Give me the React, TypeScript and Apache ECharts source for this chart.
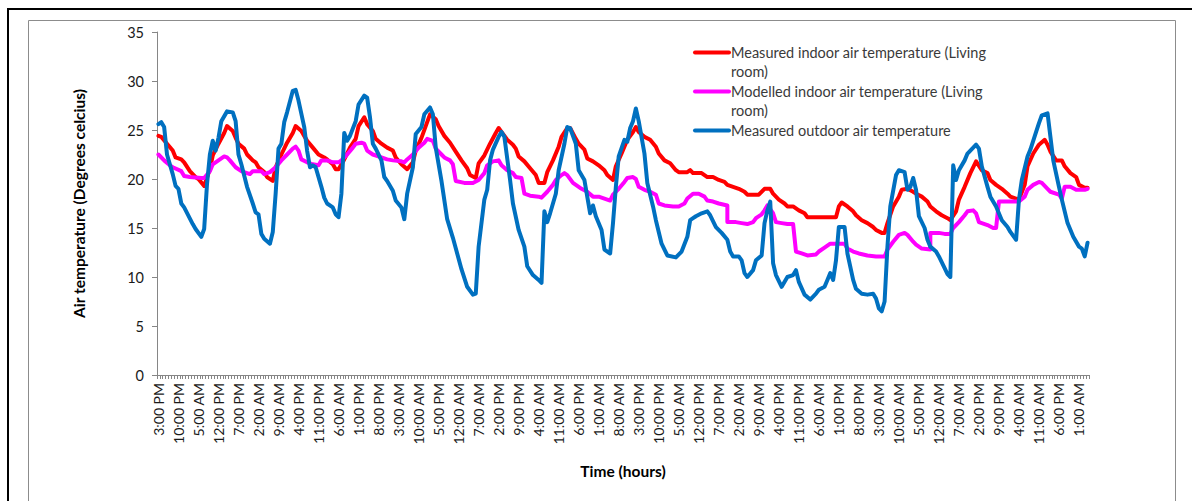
import React, { useEffect, useRef } from "react";
import * as echarts from "echarts";

// ---------- data ----------
const START_HOUR = 15; // first reading: 3:00 PM
const HOUR_COUNT = 326; // hourly readings along the x axis

const TICK_LABELS = [
  "3:00 PM", "10:00 PM", "5:00 AM", "12:00 PM", "7:00 PM", "2:00 AM", "9:00 AM", "4:00 PM",
  "11:00 PM", "6:00 AM", "1:00 PM", "8:00 PM", "3:00 AM", "10:00 AM", "5:00 PM", "12:00 AM",
  "7:00 AM", "2:00 PM", "9:00 PM", "4:00 AM", "11:00 AM", "6:00 PM", "1:00 AM", "8:00 AM",
  "3:00 PM", "10:00 PM", "5:00 AM", "12:00 PM", "7:00 PM", "2:00 AM", "9:00 AM", "4:00 PM",
  "11:00 PM", "6:00 AM", "1:00 PM", "8:00 PM", "3:00 AM", "10:00 AM", "5:00 PM", "12:00 AM",
  "7:00 AM", "2:00 PM", "9:00 PM", "4:00 AM", "11:00 AM", "6:00 PM", "1:00 AM",
];

const SERIES_NAMES = [
  "Measured indoor air temperature (Living room)",
  "Modelled indoor air temperature (Living room)",
  "Measured outdoor air temperature",
];
const LEGEND_LABELS = [
  "Measured indoor air temperature (Living\nroom)",
  "Modelled indoor air temperature (Living\nroom)",
  "Measured outdoor air temperature",
];

const X_TITLE = "Time (hours)";
const Y_TITLE = "Air temperature (Degrees celcius)";
const Y_MIN = 0;
const Y_MAX = 35;
const Y_STEP = 5;

// [hour index, °C]
const MEASURED_INDOOR: [number, number][] = [
  [0, 24.4], [1, 24.3], [3, 23.6], [5, 22.9], [6, 22.2], [8, 22.0], [9, 21.7], [11, 20.8], [13, 20.2],
  [14, 20.0], [16, 19.3], [18, 21.0], [19, 22.4], [21, 23.6], [23, 24.7], [24, 25.4], [26, 24.9],
  [27, 24.2], [28, 23.6], [30, 23.1], [31, 22.5], [33, 21.9], [34, 21.7], [35, 21.2], [37, 20.7],
  [38, 20.2], [40, 19.8], [41, 21.2], [43, 22.5], [45, 23.7], [47, 24.7], [48, 25.4], [50, 24.9],
  [51, 24.4], [52, 23.9], [54, 23.2], [56, 22.5], [58, 22.2], [59, 22.0], [61, 21.5], [62, 21.0],
  [63, 21.0], [65, 22.0], [67, 23.2], [69, 24.1], [70, 25.4], [72, 26.3], [73, 25.6], [75, 24.9],
  [76, 24.1], [78, 23.6], [80, 23.2], [82, 22.9], [83, 22.2], [85, 21.5], [87, 21.0], [89, 21.7],
  [90, 22.9], [92, 24.2], [94, 25.8], [95, 26.6], [97, 26.1], [98, 25.4], [100, 24.4], [102, 23.7],
  [104, 22.8], [106, 21.9], [108, 21.1], [109, 20.4], [111, 20.1], [112, 21.6], [114, 22.4],
  [116, 23.6], [118, 24.7], [119, 25.2], [120, 24.8], [122, 24.0], [124, 23.5], [125, 23.1],
  [126, 22.3], [128, 21.8], [130, 21.1], [132, 20.4], [133, 19.6], [135, 19.6], [136, 20.7],
  [138, 21.9], [140, 23.3], [141, 24.3], [143, 25.2], [144, 25.2], [146, 24.1], [147, 23.6],
  [149, 23.0], [150, 22.1], [152, 21.8], [154, 21.4], [156, 20.9], [157, 20.4], [159, 19.9],
  [160, 21.3], [162, 22.6], [164, 24.0], [166, 24.8], [167, 25.3], [168, 24.8], [170, 24.3],
  [172, 24.0], [174, 23.3], [175, 22.6], [177, 21.9], [179, 21.6], [181, 20.9], [182, 20.7],
  [185, 20.7], [186, 20.9], [187, 20.6], [190, 20.6], [192, 20.2], [194, 20.2], [196, 19.9],
  [198, 19.7], [199, 19.4], [201, 19.2], [203, 19.0], [205, 18.7], [206, 18.4], [210, 18.4],
  [212, 19.0], [214, 19.0], [215, 18.5], [217, 17.9], [219, 17.5], [220, 17.2], [222, 17.2],
  [224, 16.8], [226, 16.5], [227, 16.1], [237, 16.1], [238, 17.2], [239, 17.6], [241, 17.2],
  [243, 16.7], [244, 16.3], [246, 15.8], [248, 15.5], [250, 15.1], [251, 14.8], [253, 14.5],
  [254, 14.5], [255, 15.5], [257, 17.2], [259, 18.2], [260, 18.9], [262, 19.0], [264, 18.7],
  [265, 18.5], [267, 18.2], [269, 17.7], [270, 17.2], [272, 16.7], [274, 16.3], [276, 16.0],
  [277, 15.8], [279, 16.7], [280, 17.9], [282, 19.2], [284, 20.6], [286, 21.8], [288, 20.9],
  [290, 20.6], [291, 19.9], [293, 19.4], [295, 19.0], [297, 18.5], [298, 18.2], [301, 17.9],
  [303, 19.4], [304, 21.3], [306, 22.6], [308, 23.5], [310, 24.0], [311, 23.5], [312, 22.8],
  [314, 21.9], [316, 21.9], [317, 21.3], [319, 20.6], [321, 20.2], [322, 19.4], [324, 19.1],
  [325, 19.1],
];

const MODELLED_INDOOR: [number, number][] = [
  [0, 22.5], [2, 21.9], [4, 21.4], [5, 21.2], [8, 20.8], [9, 20.3], [11, 20.2], [15, 20.1], [16, 20.1],
  [18, 20.8], [19, 21.5], [21, 21.9], [23, 22.3], [24, 22.2], [25, 21.9], [27, 21.2], [29, 20.8],
  [30, 20.7], [32, 20.5], [33, 20.8], [36, 20.8], [37, 20.5], [39, 20.7], [41, 21.2], [43, 21.9],
  [45, 22.5], [47, 23.1], [48, 23.3], [49, 22.9], [50, 22.0], [52, 21.7], [54, 21.5], [56, 21.4],
  [57, 21.9], [59, 21.9], [61, 21.7], [63, 21.7], [64, 21.9], [66, 22.5], [68, 23.2], [69, 23.6],
  [71, 23.7], [72, 23.6], [73, 22.9], [75, 22.5], [78, 22.2], [80, 22.0], [82, 21.9], [85, 21.8],
  [86, 21.7], [87, 22.0], [89, 22.5], [91, 23.2], [93, 23.7], [94, 24.1], [96, 23.9], [97, 23.1],
  [99, 22.5], [100, 22.2], [102, 21.9], [103, 21.5], [104, 19.8], [107, 19.6], [110, 19.6],
  [112, 19.9], [114, 20.6], [115, 21.4], [117, 21.8], [119, 21.9], [120, 21.4], [122, 20.9],
  [124, 20.6], [125, 20.2], [127, 20.1], [128, 18.5], [130, 18.3], [133, 18.2], [134, 18.1],
  [136, 18.7], [138, 19.4], [139, 19.9], [141, 20.4], [142, 20.6], [143, 20.4], [145, 19.6],
  [146, 19.4], [148, 19.0], [150, 18.7], [152, 18.2], [154, 18.2], [156, 18.0], [158, 17.8],
  [159, 18.4], [161, 19.0], [163, 19.7], [164, 20.1], [166, 20.2], [167, 20.0], [168, 19.2],
  [170, 18.9], [172, 18.7], [174, 18.4], [175, 17.5], [177, 17.3], [180, 17.2], [182, 17.2],
  [184, 17.5], [185, 18.0], [187, 18.5], [189, 18.5], [191, 18.2], [192, 17.8], [194, 17.7],
  [196, 17.5], [199, 17.3], [199, 15.6], [202, 15.6], [204, 15.5], [206, 15.4], [208, 15.6],
  [209, 16.0], [211, 16.4], [212, 16.8], [213, 17.3], [215, 16.5], [216, 15.6], [218, 15.5],
  [220, 15.4], [222, 15.4], [223, 12.6], [225, 12.4], [227, 12.2], [230, 12.3], [231, 12.6],
  [233, 13.0], [235, 13.4], [237, 13.4], [240, 13.4], [241, 12.9], [243, 12.6], [245, 12.4],
  [248, 12.2], [251, 12.1], [254, 12.1], [255, 12.8], [257, 13.6], [259, 14.3], [261, 14.5],
  [262, 14.3], [264, 13.6], [265, 13.3], [267, 12.9], [270, 12.8], [270, 14.5], [273, 14.5],
  [275, 14.4], [277, 14.4], [278, 15.0], [280, 15.6], [282, 16.3], [283, 16.7], [285, 16.8],
  [286, 16.5], [287, 15.6], [290, 15.3], [292, 15.0], [293, 15.0], [294, 17.7], [297, 17.7],
  [301, 17.7], [303, 18.2], [304, 18.9], [306, 19.4], [308, 19.7], [309, 19.6], [311, 19.0],
  [312, 18.7], [315, 18.4], [316, 18.0], [317, 19.2], [319, 19.2], [321, 18.9], [324, 18.9],
  [325, 19.0],
];

const MEASURED_OUTDOOR: [number, number][] = [
  [0, 25.6], [1, 25.8], [2, 25.3], [3, 22.5], [5, 20.5], [6, 19.3], [7, 19.0], [8, 17.5], [9, 17.1],
  [12, 15.4], [13, 14.9], [15, 14.1], [16, 14.9], [17, 19.5], [18, 22.5], [19, 23.9], [20, 22.9],
  [21, 24.2], [22, 25.9], [24, 26.9], [26, 26.8], [27, 25.9], [28, 22.5], [29, 21.5], [31, 19.2],
  [33, 17.5], [34, 16.6], [35, 16.4], [36, 14.4], [37, 13.9], [39, 13.4], [40, 14.6], [41, 18.5],
  [42, 23.1], [43, 23.6], [44, 25.8], [45, 26.8], [47, 29.0], [48, 29.1], [49, 28.0], [51, 25.3],
  [52, 22.9], [53, 21.2], [54, 21.4], [55, 21.2], [57, 19.2], [58, 18.1], [59, 17.5], [61, 17.1],
  [62, 16.4], [63, 16.1], [64, 18.5], [65, 24.7], [66, 23.9], [67, 24.4], [69, 25.9], [70, 27.6],
  [72, 28.5], [73, 28.3], [74, 26.3], [75, 23.6], [76, 23.1], [78, 21.9], [79, 20.2], [80, 19.8],
  [82, 18.8], [83, 17.8], [85, 17.1], [86, 15.9], [87, 18.5], [89, 21.2], [90, 24.6], [92, 25.3],
  [93, 26.6], [95, 27.3], [96, 26.6], [97, 23.2], [99, 19.8], [101, 15.9], [103, 14.0], [106, 10.8],
  [108, 9.0], [110, 8.2], [111, 8.3], [112, 13.1], [114, 17.9], [115, 18.9], [116, 21.9],
  [117, 23.0], [119, 24.3], [120, 24.8], [121, 24.3], [123, 19.9], [124, 17.5], [126, 14.8],
  [128, 13.1], [129, 11.1], [131, 10.2], [133, 9.7], [134, 9.4], [135, 16.7], [136, 15.6],
  [137, 16.5], [139, 18.5], [140, 20.9], [142, 23.6], [143, 25.3], [144, 25.2], [146, 23.6],
  [147, 20.9], [149, 19.9], [150, 18.2], [151, 16.5], [152, 17.3], [153, 16.2], [155, 14.8],
  [156, 12.8], [158, 12.4], [159, 15.5], [160, 19.2], [161, 22.3], [163, 24.0], [164, 23.8],
  [165, 25.2], [166, 25.9], [167, 27.2], [168, 25.9], [170, 22.6], [171, 19.6], [173, 17.2],
  [174, 15.8], [176, 13.4], [178, 12.2], [181, 12.0], [183, 12.6], [185, 14.1], [186, 15.8],
  [187, 16.0], [188, 16.2], [190, 16.5], [192, 16.7], [193, 16.3], [195, 15.1], [197, 14.5],
  [199, 13.8], [200, 12.6], [201, 12.1], [203, 12.1], [204, 11.7], [205, 10.4], [206, 10.0],
  [208, 10.7], [209, 11.7], [211, 12.2], [212, 15.5], [213, 16.8], [214, 17.7], [215, 11.4],
  [216, 10.2], [218, 9.0], [220, 10.0], [222, 10.2], [223, 10.7], [224, 9.5], [226, 8.2],
  [228, 7.7], [230, 8.3], [231, 8.7], [233, 9.0], [234, 9.7], [235, 10.4], [236, 9.7],
  [237, 11.7], [238, 15.1], [240, 15.1], [241, 12.4], [243, 9.7], [244, 8.8], [246, 8.3],
  [248, 8.2], [250, 8.3], [251, 7.8], [252, 6.8], [253, 6.5], [254, 7.5], [255, 13.1],
  [256, 17.2], [258, 20.4], [259, 20.9], [261, 20.7], [262, 18.9], [263, 19.2], [264, 20.1],
  [265, 18.9], [266, 16.2], [268, 15.0], [269, 13.8], [270, 13.1], [272, 12.6], [273, 12.1],
  [275, 10.9], [276, 10.3], [277, 10.0], [278, 21.4], [279, 19.9], [280, 20.9], [282, 21.9],
  [283, 22.6], [286, 23.5], [287, 23.1], [288, 21.3], [290, 19.2], [291, 18.2], [293, 17.2],
  [295, 15.8], [297, 15.1], [298, 14.6], [300, 13.8], [301, 17.9], [302, 19.9], [304, 22.3],
  [305, 23.0], [307, 24.8], [308, 25.7], [309, 26.5], [311, 26.7], [312, 24.3], [313, 21.9],
  [315, 19.2], [316, 17.9], [318, 15.5], [320, 14.1], [322, 13.1], [323, 12.9], [324, 12.1],
  [325, 13.5],
];

const SERIES_COLORS = ["#FF0000", "#FF00FF", "#0070C0"];

function hourName(i: number): string {
  const tickIdx = i / 7;
  if (Number.isInteger(tickIdx) && TICK_LABELS[tickIdx]) return TICK_LABELS[tickIdx];
  const h = (START_HOUR + i) % 24;
  const h12 = h % 12 === 0 ? 12 : h % 12;
  return `${h12}:00 ${h < 12 ? "AM" : "PM"}`;
}

const CATEGORIES = Array.from({ length: HOUR_COUNT }, (_, i) => hourName(i));

const FONT = "Lato, 'Liberation Sans', sans-serif";

export default function App() {
  const ref = useRef<HTMLDivElement>(null);

  useEffect(() => {
    if (!ref.current) return;
    const chart = echarts.init(ref.current, undefined, { renderer: "svg" });
    const seriesData = [MEASURED_INDOOR, MODELLED_INDOOR, MEASURED_OUTDOOR];

    const legendItems: any[] = [];
    const legendRows = [52.5, 91.5, 130.5];
    LEGEND_LABELS.forEach((label, k) => {
      const y = legendRows[k];
      legendItems.push({
        type: "line",
        shape: { x1: 695, y1: y, x2: 729, y2: y },
        style: { stroke: SERIES_COLORS[k], lineWidth: 4, lineCap: "round" },
        silent: true,
      });
      legendItems.push({
        type: "text",
        x: 731,
        y: y - 10,
        style: {
          text: label,
          fill: "#3a3a3a",
          font: `14.5px ${FONT}`,
          lineHeight: 19.5,
          verticalAlign: "top",
          align: "left",
        },
        silent: true,
      });
    });

    chart.setOption({
      animation: false,
      backgroundColor: "#ffffff",
      textStyle: { fontFamily: FONT },
      grid: { left: 157, right: 103, top: 32, bottom: 126, containLabel: false },
      xAxis: {
        type: "category",
        data: CATEGORIES,
        boundaryGap: true,
        name: X_TITLE,
        nameLocation: "middle",
        nameGap: 88,
        nameTextStyle: { fontSize: 15.5, fontWeight: "bold", color: "#000", fontFamily: FONT },
        axisLine: { lineStyle: { color: "#868686", width: 1 } },
        axisTick: { show: true, interval: 0, length: 4, lineStyle: { color: "#868686" } },
        axisLabel: {
          interval: 6,
          rotate: 90,
          margin: 8,
          fontSize: 14,
          color: "#1a1a1a",
          fontFamily: FONT,
        },
        splitLine: { show: false },
      },
      yAxis: {
        type: "value",
        min: Y_MIN,
        max: Y_MAX,
        interval: Y_STEP,
        name: Y_TITLE,
        nameLocation: "middle",
        nameGap: 70,
        nameRotate: 90,
        nameTextStyle: { fontSize: 15.5, fontWeight: "bold", color: "#000", fontFamily: FONT },
        axisLine: { show: true, lineStyle: { color: "#868686", width: 1 } },
        axisTick: { show: true, length: 5, lineStyle: { color: "#868686" } },
        axisLabel: { margin: 13, fontSize: 14.5, color: "#1a1a1a", fontFamily: FONT },
        splitLine: { show: false },
      },
      series: SERIES_NAMES.map((name, k) => ({
        name,
        type: "line",
        data: seriesData[k],
        showSymbol: false,
        symbol: "none",
        lineStyle: { color: SERIES_COLORS[k], width: 4, join: "round", cap: "round" },
        itemStyle: { color: SERIES_COLORS[k] },
        z: 2 + k,
      })),
      graphic: [
        {
          type: "rect",
          shape: { x: 8, y: 9, width: 1210, height: 600 },
          style: { fill: "none", stroke: "#000000", lineWidth: 2 },
          silent: true,
        },
        {
          type: "rect",
          shape: { x: 28.5, y: 20.5, width: 1147, height: 600 },
          style: { fill: "none", stroke: "#8c8c8c", lineWidth: 1 },
          silent: true,
        },
        ...legendItems,
      ],
    });

    return () => chart.dispose();
  }, []);

  return (
    <div
      ref={ref}
      style={{ position: "absolute", left: 0, top: 0, width: 1192, height: 501, background: "#fff" }}
    />
  );
}
